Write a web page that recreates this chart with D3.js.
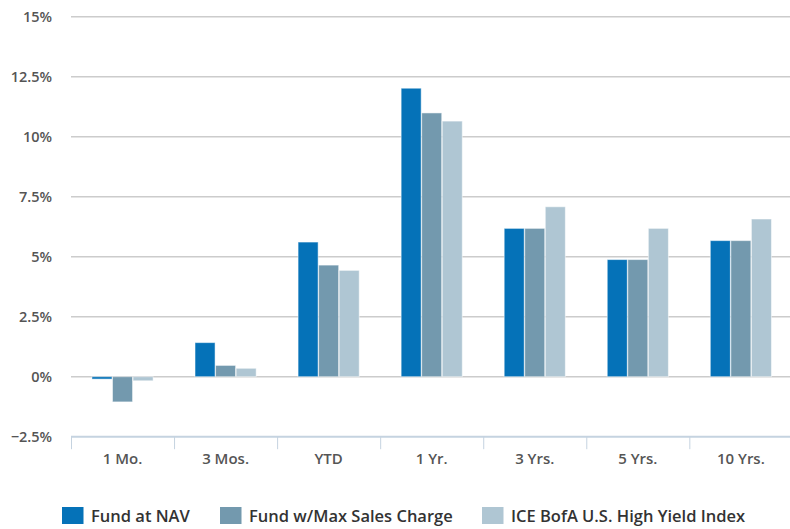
<!DOCTYPE html>
<html>
<head>
<meta charset="utf-8">
<script src="https://cdn.jsdelivr.net/npm/d3@7/dist/d3.min.js"></script>
<style>
  html, body { margin: 0; padding: 0; background: #fff; }
  svg text { font-family: "Open Sans", "Noto Sans", sans-serif; }
</style>
</head>
<body>
<svg id="chart" width="790" height="529"></svg>
<script>
// Trailing returns by period (%)
const categories = ["1 Mo.", "3 Mos.", "YTD", "1 Yr.", "3 Yrs.", "5 Yrs.", "10 Yrs."];
const seriesNames = ["Fund at NAV", "Fund w/Max Sales Charge", "ICE BofA U.S. High Yield Index"];
const fundNav = [-0.10, 1.42, 5.61, 12.02, 6.18, 4.88, 5.67];
const fundMaxCharge = [-1.05, 0.47, 4.65, 10.99, 6.18, 4.88, 5.67];
const indexReturns = [-0.17, 0.35, 4.43, 10.65, 7.08, 6.18, 6.57];
const yTicks = [-2.5, 0, 2.5, 5, 7.5, 10, 12.5, 15];
const colors = ["#0572b8", "#7399ae", "#afc6d3"];

const seriesValues = [fundNav, fundMaxCharge, indexReturns];
const rows = categories.map((c, i) => ({
  category: c,
  values: seriesNames.map((s, j) => ({ key: s, idx: j, value: seriesValues[j][i] }))
}));

const svg = d3.select("#chart");
const plotLeft = 71, plotRight = 792.4, plotTop = 16.7, plotBottom = 436.7;

const x = d3.scaleBand().domain(categories).range([plotLeft, plotRight]).paddingInner(0).paddingOuter(0);
const xInner = d3.scaleBand().domain(d3.range(seriesNames.length))
  .range([0, x.bandwidth()]).paddingOuter(1.02).paddingInner(0.025);
const y = d3.scaleLinear().domain([-2.5, 15]).range([plotBottom, plotTop]);

// Gridlines
svg.append("g")
  .selectAll("line")
  .data(yTicks.filter(t => t > -2.5))
  .join("line")
  .attr("x1", plotLeft).attr("x2", 790)
  .attr("y1", d => y(d)).attr("y2", d => y(d))
  .attr("stroke", "#cccccc").attr("stroke-width", 1.5);

// Y-axis labels
svg.append("g")
  .selectAll("text")
  .data(yTicks)
  .join("text")
  .attr("x", 52).attr("y", d => y(d))
  .attr("dy", "0.35em")
  .attr("text-anchor", "end")
  .attr("fill", "#555")
  .attr("font-size", 14.5)
  .attr("font-weight", 600)
  .text(d => d < 0 ? "\u2212" + Math.abs(d) + "%" : d + "%");

// Bars
const groups = svg.append("g")
  .selectAll("g")
  .data(rows)
  .join("g")
  .attr("transform", d => `translate(${x(d.category)},0)`);

groups.selectAll("rect")
  .data(d => d.values)
  .join("rect")
  .attr("x", d => xInner(d.idx))
  .attr("width", xInner.bandwidth())
  .attr("y", d => y(Math.max(0, d.value)))
  .attr("height", d => Math.abs(y(d.value) - y(0)))
  .attr("fill", d => colors[d.idx])
  .attr("stroke", "#ffffff")
  .attr("stroke-opacity", 0.5)
  .attr("stroke-width", 1);

// X axis
const gx = svg.append("g").attr("transform", `translate(0,${plotBottom})`);
gx.append("line")
  .attr("x1", plotLeft).attr("x2", plotRight)
  .attr("stroke", "#c5d3e0").attr("stroke-width", 2);
gx.selectAll("line.tick")
  .data(categories)
  .join("line")
  .attr("class", "tick")
  .attr("x1", d => x(d) + 0.5).attr("x2", d => x(d) + 0.5)
  .attr("y1", 0).attr("y2", 12.5)
  .attr("stroke", "#c5d3e0").attr("stroke-width", 1);
gx.selectAll("text")
  .data(categories)
  .join("text")
  .attr("x", d => x(d) + x.bandwidth() / 2)
  .attr("y", 22)
  .attr("dy", "0.35em")
  .attr("text-anchor", "middle")
  .attr("fill", "#555")
  .attr("font-size", 15)
  .attr("font-weight", 600)
  .text(d => d);

// Legend
const legendX = [62, 220, 482];
const legend = svg.append("g")
  .selectAll("g")
  .data(seriesNames)
  .join("g")
  .attr("transform", (d, i) => `translate(${legendX[i]},507)`);
legend.append("rect")
  .attr("width", 21.5).attr("height", 17)
  .attr("fill", (d, i) => colors[i]);
legend.append("text")
  .attr("x", 29).attr("y", 9)
  .attr("dy", "0.35em")
  .attr("fill", "#333")
  .attr("font-size", 16.5)
  .attr("font-weight", 600)
  .text(d => d);
</script>
</body>
</html>
